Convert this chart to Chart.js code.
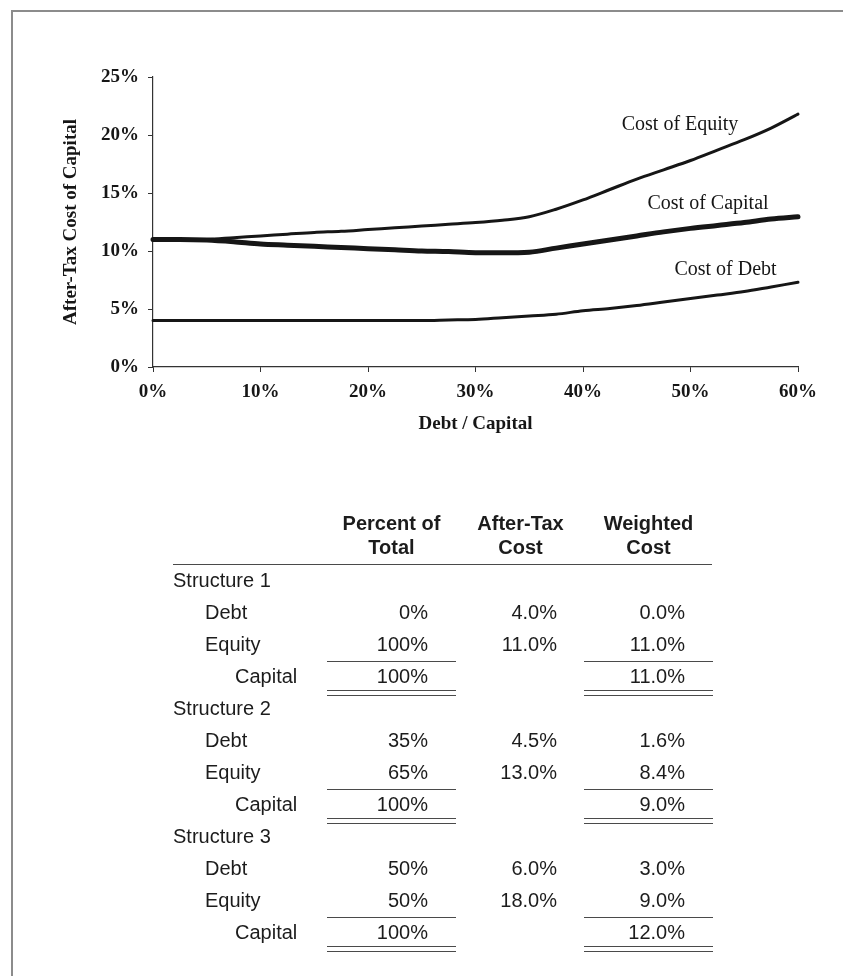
<!DOCTYPE html>
<html>
<head>
<meta charset="utf-8">
<script src="https://cdn.jsdelivr.net/npm/chart.js@4/dist/chart.umd.min.js"></script>
<style>
  body { margin: 0; background: #fff; }
  #page { position: relative; width: 859px; height: 976px; overflow: hidden; background: #fff; }
  #frame { position: absolute; left: 11px; top: 10px; width: 830px; height: 990px;
           border-left: 2px solid #8c8c8c; border-top: 2px solid #8c8c8c; }
  #costChart { position: absolute; left: 0; top: 0; }
  #tbl { position: absolute; left: 0; top: 0; width: 859px; height: 976px;
         font-family: "Liberation Sans", Arial, sans-serif; font-size: 20px; color: #1c1c1c; }
  .cell { position: absolute; height: 32px; line-height: 32px; white-space: nowrap; box-sizing: border-box; }
  .num { text-align: right; padding-right: 28px; }
  .hd { position: absolute; text-align: center; font-weight: bold; line-height: 24px; }
  .line { position: absolute; height: 0; border-top: 1.5px solid #4a4a4a; }
</style>
</head>
<body>
<div id="page">
  <div id="frame"></div>
  <canvas id="costChart" width="859" height="440"></canvas>
  <div id="tbl"></div>
</div>
<script>
// ---- dados do gráfico ----
var debtRatio    = [0, 2.5, 5, 7.5, 10, 12.5, 15, 17.5, 20, 22.5, 25, 27.5, 30, 32.5, 35, 37.5, 40, 42.5, 45, 47.5, 50, 52.5, 55, 57.5, 60];
var costEquity   = [11.0, 11.0, 11.0, 11.15, 11.3, 11.45, 11.6, 11.7, 11.85, 12.0, 12.15, 12.3, 12.45, 12.65, 12.95, 13.6, 14.4, 15.3, 16.2, 17.0, 17.8, 18.7, 19.6, 20.6, 21.8];
var costCapital  = [11.0, 11.0, 10.95, 10.8, 10.6, 10.5, 10.4, 10.3, 10.2, 10.1, 10.0, 9.95, 9.85, 9.85, 9.9, 10.25, 10.6, 10.95, 11.3, 11.65, 11.95, 12.2, 12.45, 12.75, 12.95];
var costDebt     = [4.0, 4.0, 4.0, 4.0, 4.0, 4.0, 4.0, 4.0, 4.0, 4.0, 4.0, 4.05, 4.1, 4.25, 4.4, 4.55, 4.85, 5.05, 5.3, 5.6, 5.9, 6.2, 6.5, 6.9, 7.3];
var seriesNames  = ['Cost of Equity', 'Cost of Capital', 'Cost of Debt'];
var xTicks       = [0, 10, 20, 30, 40, 50, 60];
var yTicks       = [0, 5, 10, 15, 20, 25];

// ---- dados da tabela ----
var structures     = ['Structure 1', 'Structure 2', 'Structure 3'];
var debtShare      = ['0%', '35%', '50%'];
var equityShare    = ['100%', '65%', '50%'];
var capitalShare   = ['100%', '100%', '100%'];
var debtCost       = ['4.0%', '4.5%', '6.0%'];
var equityCost     = ['11.0%', '13.0%', '18.0%'];
var debtWeighted   = ['0.0%', '1.6%', '3.0%'];
var equityWeighted = ['11.0%', '8.4%', '9.0%'];
var capitalWeighted= ['11.0%', '9.0%', '12.0%'];
var colHeaders     = [['Percent of', 'Total'], ['After-Tax', 'Cost'], ['Weighted', 'Cost']];

function pts(ys) {
  return debtRatio.map(function (x, i) { return { x: x, y: ys[i] }; });
}

// rótulos das curvas, ancorados em coordenadas de dados
var curveLabels = [
  { text: seriesNames[0], x: 43.6, y: 20.85 },
  { text: seriesNames[1], x: 46.0, y: 14.1 },
  { text: seriesNames[2], x: 48.5, y: 8.35 }
];

var labelPlugin = {
  id: 'curveLabels',
  afterDatasetsDraw: function (chart) {
    var ctx = chart.ctx;
    var xs = chart.scales.x, ys = chart.scales.y;
    ctx.save();
    ctx.font = '20px "Liberation Serif", "Times New Roman", serif';
    ctx.fillStyle = '#161616';
    ctx.textBaseline = 'middle';
    ctx.textAlign = 'left';
    curveLabels.forEach(function (l) {
      ctx.fillText(l.text, xs.getPixelForValue(l.x), ys.getPixelForValue(l.y));
    });
    ctx.restore();
  }
};

var serif = '"Liberation Serif", "Times New Roman", serif';
var ink = '#161616';

var ctx = document.getElementById('costChart').getContext('2d');
var chart = new Chart(ctx, {
  type: 'line',
  data: {
    datasets: [
      { label: seriesNames[0], data: pts(costEquity),  borderColor: ink, borderWidth: 3 },
      { label: seriesNames[1], data: pts(costCapital), borderColor: ink, borderWidth: 5 },
      { label: seriesNames[2], data: pts(costDebt),    borderColor: ink, borderWidth: 3 }
    ]
  },
  options: {
    responsive: false,
    animation: false,
    clip: false,
    elements: {
      point: { radius: 0 },
      line: { cubicInterpolationMode: 'monotone', borderCapStyle: 'round', borderJoinStyle: 'round' }
    },
    layout: { padding: { left: 50, right: 61, top: 77, bottom: 0 } },
    plugins: { legend: { display: false }, tooltip: { enabled: false } },
    scales: {
      x: {
        type: 'linear', min: 0, max: 60,
        afterBuildTicks: function (s) { s.ticks = xTicks.map(function (v) { return { value: v }; }); },
        afterFit: function (s) { s.height = 73; },
        border: { display: true, color: '#333', width: 1.2 },
        grid: { drawOnChartArea: false, drawTicks: true, tickLength: 5, tickColor: '#333' },
        ticks: { color: ink, padding: 9, maxRotation: 0,
                 font: { family: serif, size: 19, weight: 'bold' },
                 callback: function (v) { return v + '%'; } },
        title: { display: true, text: 'Debt / Capital', color: ink,
                 font: { family: serif, size: 19, weight: 'bold' }, padding: { top: 0, bottom: 5 } }
      },
      y: {
        min: 0, max: 25,
        afterBuildTicks: function (s) { s.ticks = yTicks.map(function (v) { return { value: v }; }); },
        afterFit: function (s) { s.width = 103; },
        border: { display: true, color: '#333', width: 1.2 },
        grid: { drawOnChartArea: false, drawTicks: true, tickLength: 5, tickColor: '#333' },
        ticks: { color: ink, padding: 9,
                 font: { family: serif, size: 19, weight: 'bold' },
                 callback: function (v) { return v + '%'; } },
        title: { display: true, text: 'After-Tax Cost of Capital', color: ink,
                 font: { family: serif, size: 19, weight: 'bold' }, padding: { top: 10, bottom: 0 } }
      }
    }
  },
  plugins: [labelPlugin]
});

// ---- tabela ----
(function () {
  var tbl = document.getElementById('tbl');
  var colLeft = [327, 456, 584];
  var colW = 129;
  var tableLeft = 173, tableRight = 712;
  var rowTop = 564, rowH = 32;

  function add(cls, text, css) {
    var d = document.createElement('div');
    d.className = cls;
    d.textContent = text;
    for (var k in css) d.style[k] = css[k];
    tbl.appendChild(d);
    return d;
  }

  colHeaders.forEach(function (h, i) {
    add('hd', h[0], { left: colLeft[i] + 'px', width: colW + 'px', top: '511px' });
    add('hd', h[1], { left: colLeft[i] + 'px', width: colW + 'px', top: '535px' });
  });
  add('line', '', { left: tableLeft + 'px', width: (tableRight - tableLeft) + 'px', top: '564px' });

  var r = 0;
  function row(label, indent, vals) {
    var top = rowTop + r * rowH;
    add('cell', label, { left: (tableLeft + indent) + 'px', top: top + 'px' });
    vals.forEach(function (v, i) {
      if (v === null) return;
      add('cell num', v, { left: colLeft[i] + 'px', width: colW + 'px', top: top + 'px' });
    });
    r++;
    return top;
  }

  structures.forEach(function (s, i) {
    row(s, 0, []);
    row('Debt', 32, [debtShare[i], debtCost[i], debtWeighted[i]]);
    row('Equity', 32, [equityShare[i], equityCost[i], equityWeighted[i]]);
    var top = row('Capital', 62, [capitalShare[i], null, capitalWeighted[i]]);
    // traço simples acima do total e duplo abaixo
    [0, 2].forEach(function (c) {
      add('line', '', { left: colLeft[c] + 'px', width: colW + 'px', top: (top + 1) + 'px' });
      add('line', '', { left: colLeft[c] + 'px', width: colW + 'px', top: (top + 30) + 'px' });
      add('line', '', { left: colLeft[c] + 'px', width: colW + 'px', top: (top + 35) + 'px' });
    });
  });
})();
</script>
</body>
</html>
